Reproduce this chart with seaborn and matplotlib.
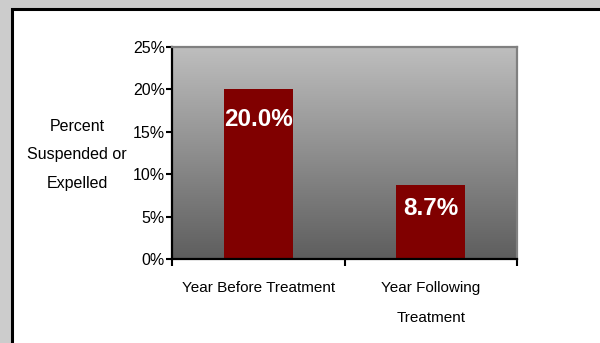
import numpy as np
import pandas as pd
import matplotlib
matplotlib.use("Agg")
import matplotlib.pyplot as plt
import seaborn as sns
from matplotlib.colors import LinearSegmentedColormap
from matplotlib.patches import Rectangle
from matplotlib.ticker import FixedLocator

# Chart data
categories = ["Year Before Treatment", "Year Following\nTreatment"]
percent_values = [20.0, 8.7]
y_ticks = [0, 5, 10, 15, 20, 25]
y_label = "Percent\nSuspended or\nExpelled"

# Vertical offsets (points) of the value labels inside the bars
label_offsets = [-22, -16.5]

sns.set_theme(style="white")
plt.rcParams["font.family"] = ["Liberation Sans", "DejaVu Sans"]

W, H = 600, 343
fig = plt.figure(figsize=(W / 100, H / 100), dpi=100, facecolor="#cccccc")

# White chart frame with a heavy black border
frame_top = 1 - 8.5 / H
fig.add_artist(Rectangle((12 / W, -0.2), 1.2, frame_top + 0.2,
                         transform=fig.transFigure, facecolor="white",
                         edgecolor="black", linewidth=2.2, zorder=-1))

ax = fig.add_axes([172 / W, (H - 259) / H, 345 / W, 212 / H])

# Gradient plot-area background (light grey at top, dark grey at bottom)
grad_cmap = LinearSegmentedColormap.from_list("plotbg", ["#5e5e5e", "#bebebe"])
ax.imshow(np.linspace(0, 1, 256).reshape(-1, 1), cmap=grad_cmap, origin="lower",
          extent=[0, 1, 0, 1], transform=ax.transAxes, aspect="auto", zorder=0)

df = pd.DataFrame({"period": categories, "percent": percent_values})
sns.barplot(data=df, x="period", y="percent", color="#800000", width=0.4,
            saturation=1, linewidth=0, edgecolor="#800000", ax=ax, zorder=2)

for patch, val, off in zip(ax.patches, percent_values, label_offsets):
    ax.annotate(f"{val:.1f}%", xy=(patch.get_x() + patch.get_width() / 2, val),
                xytext=(0, off), textcoords="offset points", ha="center",
                va="center", color="white", fontweight="bold", fontsize=17.5,
                zorder=3)

ax.set_xlim(-0.5, 1.5)
ax.set_ylim(0, 25)
ax.set_yticks(y_ticks)
ax.yaxis.set_major_formatter(lambda v, p: f"{v:.0f}%")
ax.tick_params(axis="y", length=4, width=1.5, color="black", direction="out",
               pad=1, labelsize=11.5, left=True, labelcolor="black")

ax.xaxis.set_minor_locator(FixedLocator([-0.5, 0.5, 1.5]))
ax.tick_params(axis="x", which="major", length=0, pad=16, labelsize=11,
               labelcolor="black")
ax.tick_params(axis="x", which="minor", length=5, width=1.5, color="black",
               direction="out", bottom=True)
for t in ax.get_xticklabels():
    t.set_linespacing(2.4)

ax.set_xlabel("")
ax.set_ylabel(y_label, rotation=0, fontsize=11.5, linespacing=2.15,
              ha="center", va="center", color="black")
ax.yaxis.set_label_coords((77 - 172) / 345, (259 - 155) / 212)

for side in ["left", "bottom"]:
    ax.spines[side].set_color("black")
    ax.spines[side].set_linewidth(1.6)
for side in ["top", "right"]:
    ax.spines[side].set_color("#808080")
    ax.spines[side].set_linewidth(1.6)

fig.savefig("out.png", dpi=100)
